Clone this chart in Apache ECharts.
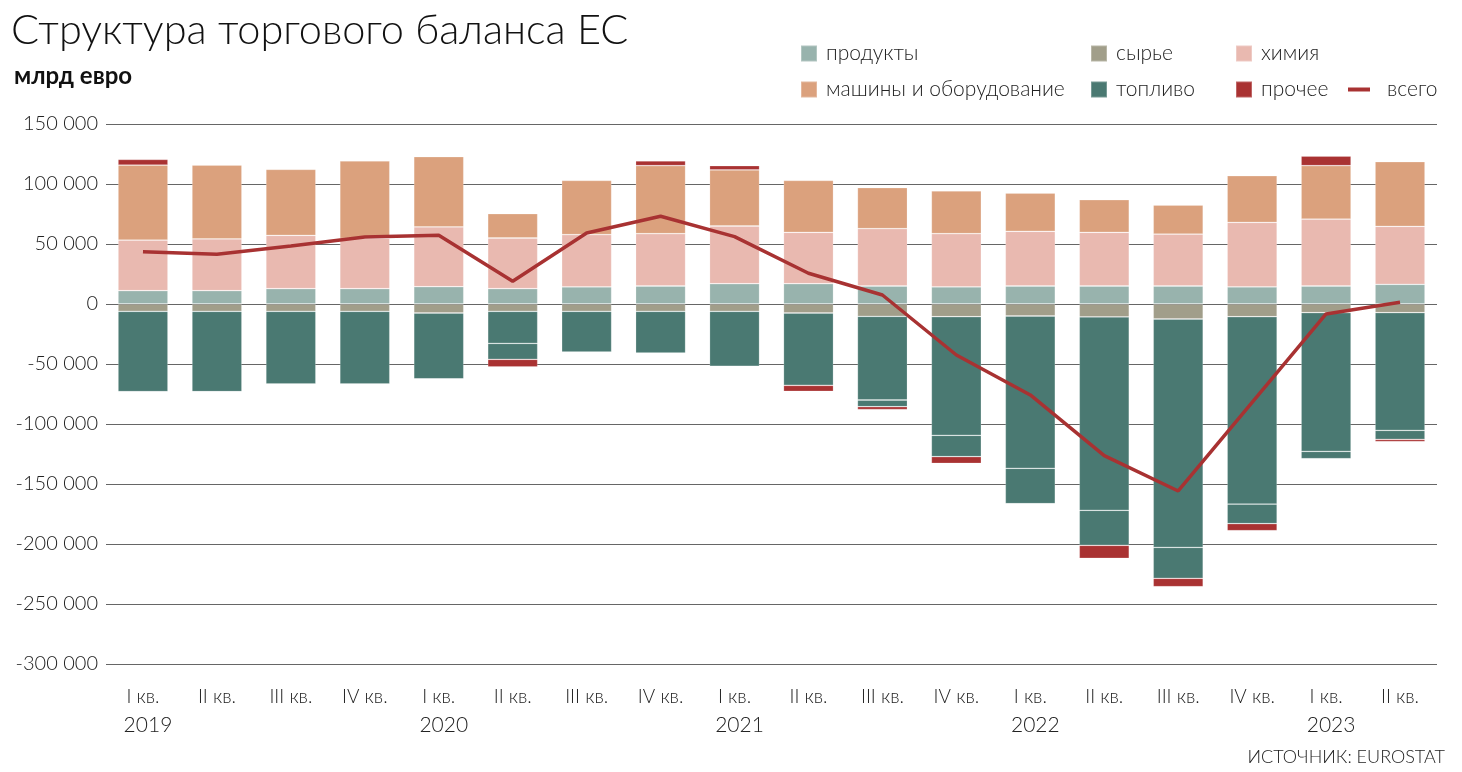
<!DOCTYPE html>
<html><head><meta charset="utf-8">
<script src="https://cdn.jsdelivr.net/npm/echarts@6/dist/echarts.min.js"></script>
<style>html,body{margin:0;padding:0;background:#fff}#c{width:1462px;height:772px}</style>
</head><body><div id="c"></div>
<script>
const quarters = ['I кв.','II кв.','III кв.','IV кв.','I кв.','II кв.','III кв.','IV кв.','I кв.','II кв.','III кв.','IV кв.','I кв.','II кв.','III кв.','IV кв.','I кв.','II кв.'];
const years = ['2019','','','','2020','','','','2021','','','','2022','','','','2023',''];
const yTicks = [-300000,-250000,-200000,-150000,-100000,-50000,0,50000,100000,150000];
const food = [11100,11100,12800,12800,14400,12800,14200,15000,16900,16900,15000,14200,15000,15000,15000,14200,15000,16400];
const raw = [-6100,-6100,-6100,-6100,-7500,-6100,-6100,-6100,-6100,-7500,-10300,-10600,-10000,-10800,-12500,-10600,-7200,-7200];
const chem = [42200,43100,44400,41900,49800,42200,43600,43600,48100,42800,47800,44400,45600,44700,43300,53800,55800,48300];
const machinery = [62500,61600,55000,64500,58600,20300,45200,56700,46700,43300,34200,35600,31900,27200,24200,38900,44500,53900];
const fuelA = [-66900,-66900,-60600,-60600,-55000,-26700,-34100,-34800,-45800,-60300,-69700,-98800,-126900,-161100,-190300,-156100,-115600,-98100];
const fuelB = [0,0,0,0,0,-13300,0,0,0,0,-5600,-17800,-29500,-29200,-25800,-16300,-6100,-7500];
const other = [4700,0,0,0,0,-6400,0,3900,3600,-5000,-2400,-5600,0,-10800,-7000,-5900,8000,-1900];
const total = [43600,41400,48300,55800,57200,18900,59200,73100,56100,25600,7500,-42500,-75800,-126400,-155800,-82000,-8300,1400];

const FONT = 'Lato';
const C = {food:'#98b3ad', raw:'#a19e8a', chem:'#e9b9b0', mach:'#dba17d', fuel:'#4a7972', other:'#a93232', line:'#a83232'};
const chart = echarts.init(document.getElementById('c'), null, {renderer:'canvas'});
function bar(name, data, color){
  return {name, type:'bar', stack:'s', data, barWidth:50, animation:false,
    itemStyle:{color, borderColor:'rgba(255,255,255,0.25)', borderWidth:0.8}};
}
const fmt = v => (v<0?'-':'') + String(Math.abs(v)).replace(/\B(?=(\d{3})+(?!\d))/g,' ');
const legendBase = {orient:'vertical', itemWidth:16, itemHeight:16, itemGap:15, icon:'rect',
  textStyle:{fontFamily:FONT, fontSize:21, fontWeight:300, color:'#222', padding:[0,0,0,4]}, selectedMode:false};
chart.setOption({
  animation:false,
  title:[
    {text:'Структура торгового баланса ЕС', left:6, top:5, textStyle:{fontFamily:FONT, fontSize:41.5, fontWeight:300, color:'#111'}},
    {text:'млрд евро', left:9, top:59, textStyle:{fontFamily:FONT, fontSize:24, fontWeight:'bold', color:'#111'}},
    {text:'ИСТОЧНИК: EUROSTAT', right:12, top:743, textStyle:{fontFamily:FONT, fontSize:18, fontWeight:300, color:'#222'}}
  ],
  legend:[
    Object.assign({}, legendBase, {left:795, top:38, data:['продукты','машины и оборудование']}),
    Object.assign({}, legendBase, {left:1085, top:38, data:['сырье','топливо']}),
    Object.assign({}, legendBase, {left:1230, top:38, data:['химия','прочее']}),
    Object.assign({}, legendBase, {left:1343, top:74, itemWidth:22, itemHeight:4, data:['всего'], textStyle:Object.assign({}, legendBase.textStyle, {padding:[0,0,0,12]})})
  ],
  grid:{left:106, right:25, top:124, bottom:108, containLabel:false},
  xAxis:{type:'category', data:quarters, axisLine:{show:false}, axisTick:{show:false},
    axisLabel:{interval:0, margin:18, lineHeight:29, fontFamily:FONT, fontSize:19, fontWeight:300, color:'#222',
      formatter:(v,i)=> years[i] ? '{q|'+v+'}\n{y|'+years[i]+'}' : '{q|'+v+'}\n{y| }',
      rich:{q:{fontFamily:FONT, fontSize:19, fontWeight:300, color:'#222', lineHeight:29},
            y:{fontFamily:FONT, fontSize:21, fontWeight:300, color:'#222', lineHeight:29, padding:[0,0,0,10]}}}},
  yAxis:{type:'value', min:-300000, max:150000, interval:50000,
    axisLine:{show:false}, axisTick:{show:false},
    splitLine:{lineStyle:{color:'#666', width:1.2}},
    axisLabel:{margin:8, fontFamily:FONT, fontSize:20, fontWeight:300, color:'#222', formatter:v=>fmt(v)}},
  series:[
    bar('продукты', food, C.food),
    bar('сырье', raw, C.raw),
    bar('химия', chem, C.chem),
    bar('машины и оборудование', machinery, C.mach),
    bar('топливо', fuelA, C.fuel),
    bar('топливо', fuelB, C.fuel),
    bar('прочее', other, C.other),
    {name:'всего', type:'line', data:total, symbol:'none', z:10, animation:false,
      lineStyle:{color:C.line, width:3.5}, itemStyle:{color:C.line}}
  ]
});
</script></body></html>
